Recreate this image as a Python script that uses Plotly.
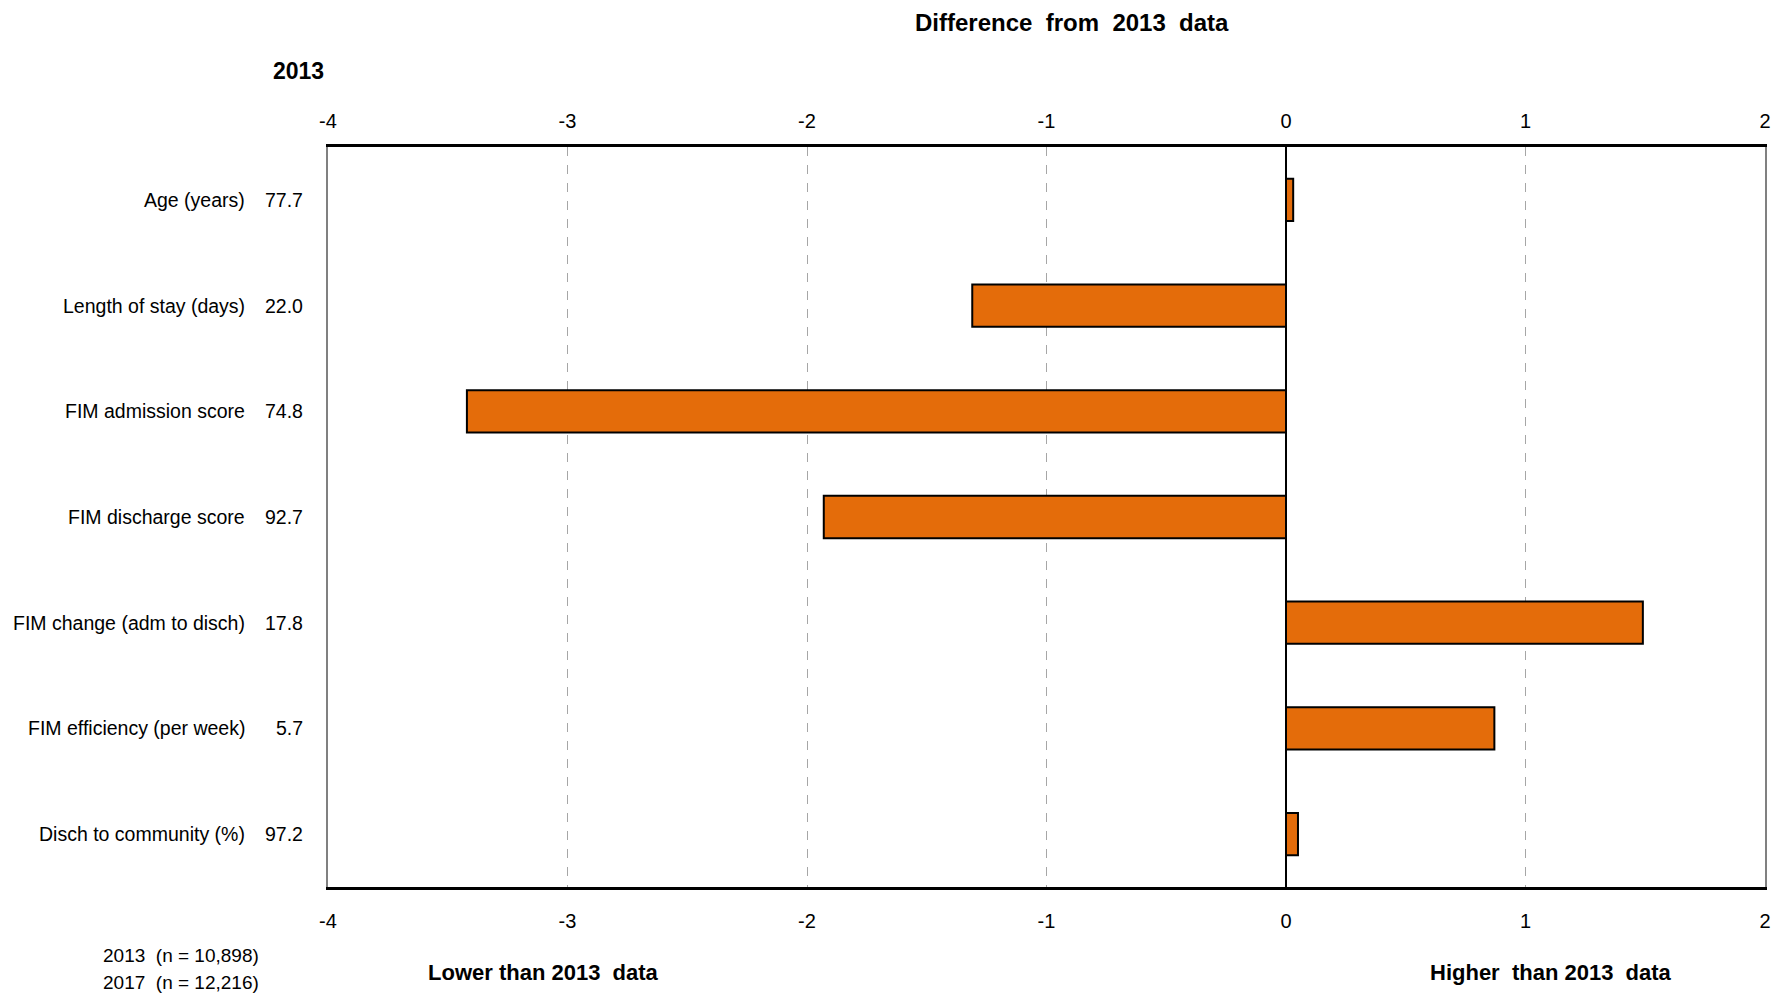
import plotly.graph_objects as go

categories = ["Age (years)", "Length of stay (days)", "FIM admission score",
              "FIM discharge score", "FIM change (adm to disch)",
              "FIM efficiency (per week)", "Disch to community (%)"]
values_2013 = ["77.7", "22.0", "74.8", "92.7", "17.8", "5.7", "97.2"]
difference = [0.03, -1.31, -3.42, -1.93, 1.49, 0.87, 0.05]
tick_vals = [-4, -3, -2, -1, 0, 1, 2]
tick_text = ["-4", "-3", "-2", "-1", "0", "1", "2"]

FONT = "Liberation Sans, Arial, sans-serif"
ORANGE = "#E46C0A"

fig = go.Figure()
fig.add_trace(go.Bar(
    x=difference, y=categories, orientation="h",
    marker=dict(color=ORANGE, line=dict(color="black", width=2)),
    showlegend=False, hoverinfo="x+y",
))
# helper invisible trace for the top axis
fig.add_trace(go.Scatter(
    x=[tick_vals[0], tick_vals[-1]], y=[categories[0], categories[0]],
    xaxis="x2", mode="none", showlegend=False, hoverinfo="skip",
))

axis_common = dict(
    range=[-4, 2], tickvals=tick_vals, ticktext=tick_text,
    ticks="", tickfont=dict(family=FONT, size=20, color="black"),
    ticklabelstandoff=14, automargin=False,
)

fig.update_layout(
    width=1777, height=996,
    margin=dict(l=328, r=12, t=147, b=109, autoexpand=False),
    paper_bgcolor="white", plot_bgcolor="white",
    bargap=0.6,
    font=dict(family=FONT, size=19, color="black"),
    xaxis=dict(
        **axis_common,
        showgrid=True, gridcolor="#A6A6A6", gridwidth=1.3, griddash="dash",
        zeroline=True, zerolinecolor="black", zerolinewidth=1.5,
        showline=True, linecolor="black", linewidth=2.5, mirror=True,
    ),
    xaxis2=dict(
        **axis_common,
        overlaying="x", side="top", matches="x",
        showgrid=False, zeroline=False, showline=False,
    ),
    yaxis=dict(
        categoryorder="array", categoryarray=categories,
        autorange="reversed", automargin=False,
        showticklabels=False, ticks="",
        showgrid=False, zeroline=False,
        showline=True, linecolor="#808080", linewidth=1.5, mirror=True,
    ),
)

annotations = []
for cat, val in zip(categories, values_2013):
    annotations.append(dict(
        x=-0.0567, y=cat, xref="paper", yref="y", text=cat,
        xanchor="right", yanchor="middle", showarrow=False,
        font=dict(family=FONT, size=19.5, color="black"),
    ))
    annotations.append(dict(
        x=-0.0157, y=cat, xref="paper", yref="y", text=val,
        xanchor="right", yanchor="middle", showarrow=False,
        font=dict(family=FONT, size=19.5, color="black"),
    ))

annotations += [
    dict(x=0.518, y=1.1676, xref="paper", yref="paper",
         text="<b>Difference  from  2013  data</b>", showarrow=False,
         xanchor="center", yanchor="middle",
         font=dict(family=FONT, size=24, color="black")),
    dict(x=-0.0204, y=1.1027, xref="paper", yref="paper",
         text="<b>2013</b>", showarrow=False,
         xanchor="center", yanchor="middle",
         font=dict(family=FONT, size=23, color="black")),
    dict(x=0.15, y=-0.115, xref="paper", yref="paper",
         text="<b>Lower than 2013  data</b>", showarrow=False,
         xanchor="center", yanchor="middle",
         font=dict(family=FONT, size=22, color="black")),
    dict(x=0.851, y=-0.115, xref="paper", yref="paper",
         text="<b>Higher  than 2013  data</b>", showarrow=False,
         xanchor="center", yanchor="middle",
         font=dict(family=FONT, size=22, color="black")),
    dict(x=-0.1583, y=-0.0919, xref="paper", yref="paper",
         text="2013  (n = 10,898)", showarrow=False,
         xanchor="left", yanchor="middle",
         font=dict(family=FONT, size=19, color="black")),
    dict(x=-0.1583, y=-0.1297, xref="paper", yref="paper",
         text="2017  (n = 12,216)", showarrow=False,
         xanchor="left", yanchor="middle",
         font=dict(family=FONT, size=19, color="black")),
]
fig.update_layout(annotations=annotations)

fig.write_html(
    "out.html",
    config={"displayModeBar": False},
    post_script="document.body.style.margin='0';document.body.style.overflow='hidden';",
)
